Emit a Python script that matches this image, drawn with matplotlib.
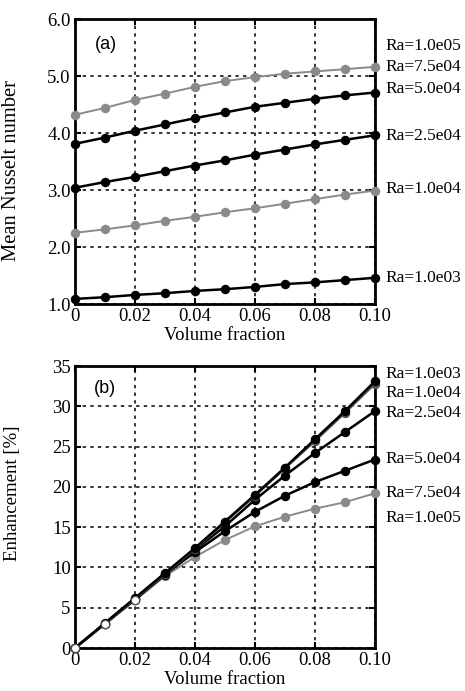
import matplotlib
matplotlib.use("Agg")
import matplotlib.pyplot as plt
import numpy as np

plt.rcParams['font.family'] = ['Liberation Serif', 'DejaVu Serif']
plt.rcParams['mathtext.fontset'] = 'stix'

vf = [0.0, 0.01, 0.02, 0.03, 0.04, 0.05, 0.06, 0.07, 0.08, 0.09, 0.10]

# Panel (a): mean Nusselt number
nu_75e4 = [4.32, 4.44, 4.58, 4.69, 4.81, 4.91, 4.98, 5.04, 5.08, 5.12, 5.16]
nu_50e4 = [3.81, 3.92, 4.04, 4.15, 4.26, 4.36, 4.46, 4.53, 4.60, 4.66, 4.71]
nu_25e4 = [3.04, 3.14, 3.23, 3.33, 3.43, 3.52, 3.62, 3.71, 3.80, 3.88, 3.96]
nu_10e4 = [2.25, 2.31, 2.38, 2.46, 2.53, 2.61, 2.68, 2.76, 2.84, 2.92, 2.99]
nu_10e3 = [1.09, 1.12, 1.16, 1.19, 1.23, 1.26, 1.30, 1.35, 1.38, 1.42, 1.46]

labels_a = ['Ra=1.0e05', 'Ra=7.5e04', 'Ra=5.0e04', 'Ra=2.5e04', 'Ra=1.0e04', 'Ra=1.0e03']
label_y_a = [5.52, 5.16, 4.77, 3.94, 3.01, 1.45]

# Panel (b): enhancement [%]
en_10e3 = [0, 3.1, 6.2, 9.3, 12.4, 15.7, 19.0, 22.4, 25.9, 29.4, 33.1]
en_10e4 = [0, 3.0, 6.1, 9.2, 12.3, 15.6, 18.9, 22.3, 25.7, 29.2, 32.8]
en_25e4 = [0, 3.0, 6.1, 9.2, 12.2, 15.1, 18.4, 21.4, 24.2, 26.8, 29.4]
en_50e4 = [0, 3.0, 6.0, 9.1, 11.9, 14.5, 16.9, 18.9, 20.6, 22.0, 23.4]
en_75e4 = [0, 3.0, 5.9, 8.9, 11.3, 13.4, 15.1, 16.3, 17.3, 18.1, 19.2]

labels_b = ['Ra=1.0e03', 'Ra=1.0e04', 'Ra=2.5e04', 'Ra=5.0e04', 'Ra=7.5e04', 'Ra=1.0e05']
label_y_b = [34.0, 31.6, 29.2, 23.5, 19.2, 16.1]

xticks = [0, 0.02, 0.04, 0.06, 0.08, 0.10]
xticklabels = ['0', '0.02', '0.04', '0.06', '0.08', '0.10']
yticks_a = [1, 2, 3, 4, 5, 6]
yticklabels_a = ['1.0', '2.0', '3.0', '4.0', '5.0', '6.0']
yticks_b = [0, 5, 10, 15, 20, 25, 30, 35]

BLACK = '#000000'
GRAY = '#8a8a8a'
DGRAY = '#555555'

fig = plt.figure(figsize=(4.65, 6.91), dpi=100)
axa = fig.add_axes([0.161, 0.560, 0.645, 0.4125])
axb = fig.add_axes([0.161, 0.0622, 0.645, 0.408])


def style(ax):
    ax.set_xlim(0, 0.10)
    ax.grid(True, color='black', linestyle=(0, (2.2, 2.8)), linewidth=1.1)
    ax.set_axisbelow(True)
    for s in ax.spines.values():
        s.set_linewidth(2.0)
    ax.tick_params(direction='in', length=4, width=1.5, top=True, right=True,
                   labelsize=13.5, pad=3)
    ax.set_xticks(xticks)
    ax.set_xticklabels(xticklabels)
    ax.set_xlabel('Volume fraction', fontsize=13.5, labelpad=1)


# Panel (a)
style(axa)
axa.set_ylim(1, 6)
axa.set_yticks(yticks_a)
axa.set_yticklabels(yticklabels_a)
for y, c, lw in [(nu_75e4, GRAY, 1.4), (nu_50e4, BLACK, 1.8), (nu_25e4, BLACK, 1.8),
                 (nu_10e4, GRAY, 1.4), (nu_10e3, BLACK, 1.8)]:
    axa.plot(vf, y, '-o', color=c, lw=lw, ms=5.8, clip_on=False, zorder=3)
axa.set_ylabel('Mean Nusselt number', fontsize=14.8)
axa.yaxis.set_label_coords(-0.181, 0.47)
axa.text(0.103, 0.909, '(a)', transform=axa.transAxes, fontsize=13,
         family=['Liberation Sans', 'DejaVu Sans'], ha='center', va='center')
for lab, yy in zip(labels_a, label_y_a):
    axa.text(1.037, yy, lab, transform=axa.get_yaxis_transform(), fontsize=12.5,
             ha='left', va='center', clip_on=False)

# Panel (b)
style(axb)
axb.set_ylim(0, 35)
axb.set_yticks(yticks_b)
for y, c, lw in [(en_75e4, GRAY, 1.4), (en_50e4, BLACK, 1.8), (en_25e4, BLACK, 1.8),
                 (en_10e4, DGRAY, 1.8), (en_10e3, BLACK, 1.8)]:
    axb.plot(vf, y, '-o', color=c, lw=lw, ms=5.8, clip_on=False, zorder=3)
axb.plot(vf[:3], en_75e4[:3], 'o', mfc='white', mec=DGRAY, ms=5.8, mew=0.8,
         clip_on=False, zorder=4)
axb.set_ylabel('Enhancement [%]', fontsize=13.5)
axb.yaxis.set_label_coords(-0.178, 0.55)
axb.text(0.10, 0.921, '(b)', transform=axb.transAxes, fontsize=13,
         family=['Liberation Sans', 'DejaVu Sans'], ha='center', va='center')
for lab, yy in zip(labels_b, label_y_b):
    axb.text(1.037, yy, lab, transform=axb.get_yaxis_transform(), fontsize=12.5,
             ha='left', va='center', clip_on=False)

fig.savefig('out.png', dpi=100)
